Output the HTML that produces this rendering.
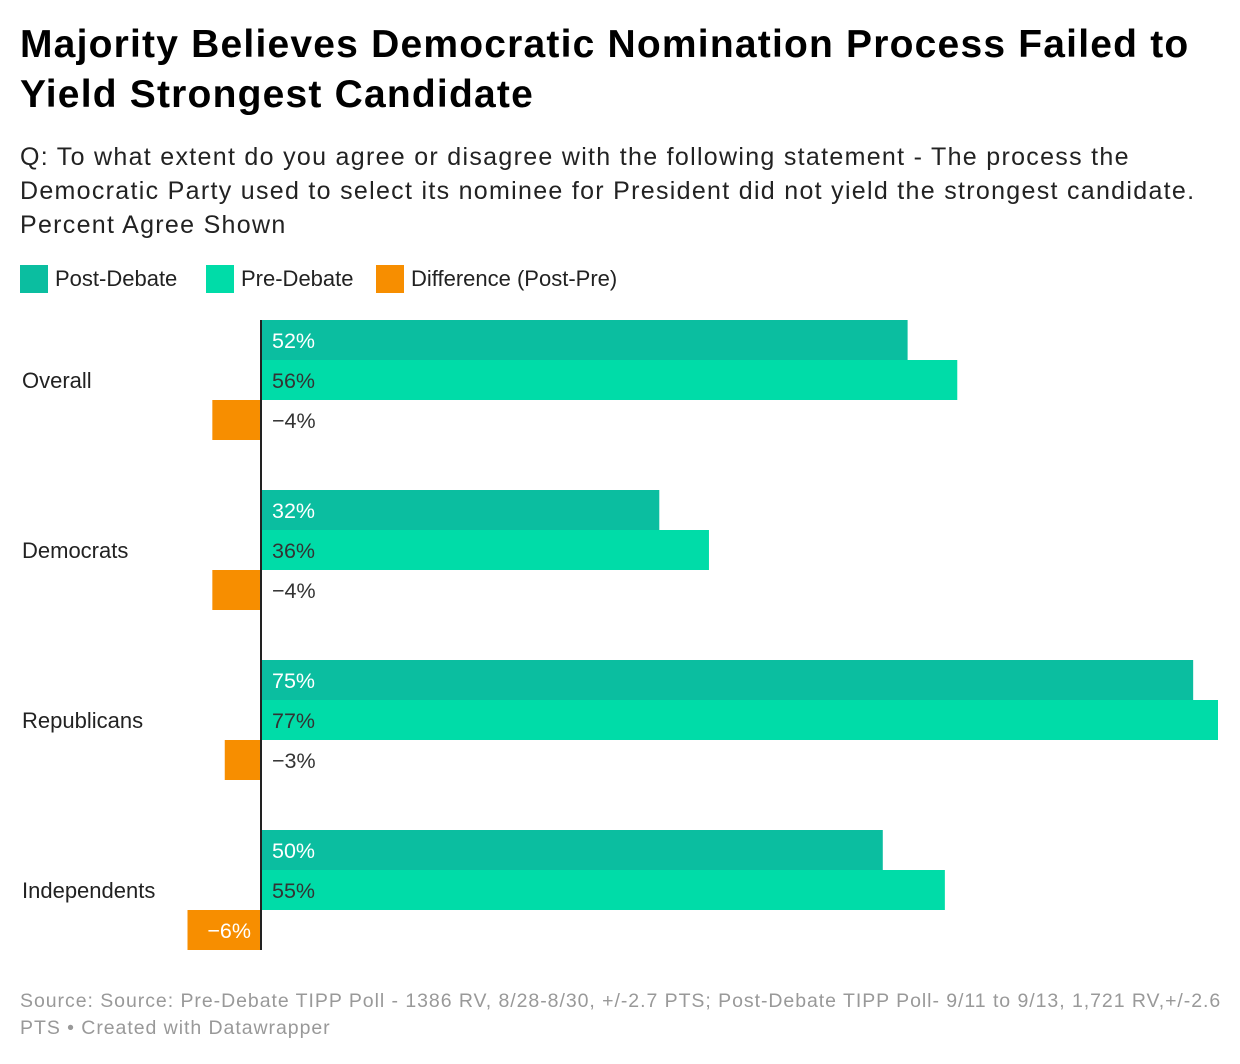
<!DOCTYPE html>
<html><head><meta charset="utf-8"><style>
body{margin:0;background:#fff;font-family:"Liberation Sans",sans-serif;width:1240px;height:1064px;overflow:hidden;position:relative;color:#222}
.abs{position:absolute}
h1{position:absolute;left:20px;top:20px;margin:0;font-size:39px;line-height:50px;font-weight:bold;color:#000;white-space:nowrap;letter-spacing:1.2px}
.sub{left:20px;top:140px;font-size:25px;line-height:34px;color:#222;white-space:nowrap;letter-spacing:1.3px}
.leg{top:264px;font-size:22px;line-height:30px;display:flex;align-items:center}
.sw{width:28px;height:28px;display:inline-block;margin-right:7px}
.foot{left:20px;top:988px;font-size:19.5px;line-height:27px;color:#999;white-space:nowrap;letter-spacing:0.95px}
</style></head><body>
<h1>Majority Believes Democratic Nomination Process Failed to<br>Yield Strongest Candidate</h1>
<div class="abs sub">Q: To what extent do you agree or disagree with the following statement - The process the<br>Democratic Party used to select its nominee for President did not yield the strongest candidate.<br>Percent Agree Shown</div>
<div class="abs leg" style="left:20px"><span class="sw" style="background:#0bbea0"></span>Post-Debate</div>
<div class="abs leg" style="left:206px"><span class="sw" style="background:#00dca8"></span>Pre-Debate</div>
<div class="abs leg" style="left:376px"><span class="sw" style="background:#f78e00"></span>Difference (Post-Pre)</div>
<svg class="abs" style="left:0;top:300px" width="1240" height="660" id="chart"></svg>
<div class="abs foot">Source: Source: Pre-Debate TIPP Poll - 1386 RV, 8/28-8/30, +/-2.7 PTS; Post-Debate TIPP Poll- 9/11 to 9/13, 1,721 RV,+/-2.6<br>PTS • Created with Datawrapper</div>
<script>
const categories=["Overall","Democrats","Republicans","Independents"];
const postValues=[52,32,75,50];
const preValues=[56,36,77,55];
const diffValues=[-4,-4,-3,-6];
const NS="http://www.w3.org/2000/svg";
const svg=document.getElementById('chart');
const x0=262, pxPer=956/77;
function xs(v){return x0+v*pxPer;}
function mk(t,a){const e=document.createElementNS(NS,t);for(const k in a)e.setAttribute(k,a[k]);svg.appendChild(e);return e;}
const colors=["#0bbea0","#00dca8","#f78e00"];
categories.forEach((c,i)=>{
  const gy=20+i*170;
  const t=mk('text',{x:22,y:gy+68,'font-size':22,fill:'#222','font-family':'Liberation Sans, sans-serif'});
  t.textContent=c;
  
  
  const vals=[postValues[i],preValues[i],diffValues[i]];
  vals.forEach((v,j)=>{
    const y=gy+j*40;
    const a=xs(Math.min(0,v)), b=xs(Math.max(0,v));
    const r=mk('rect',{x:a,y:y,width:b-a,height:40,fill:colors[j]});
    
    
    const s=(v<0?'\u2212'+Math.abs(v):v)+'%';
    let lx=x0+10, fill=j==0?'#fff':'#333', anchor='start';
    if(v<0){ if(b-a>60){lx=x0-11;anchor='end';fill='#fff';} else {lx=x0+10;} }
    const l=mk('text',{x:lx,y:y+28,'font-size':21.5,fill:fill,'text-anchor':anchor,'font-family':'Liberation Sans, sans-serif'});
    l.textContent=s;
    
    
  });
});
const ax=mk('line',{x1:261,x2:261,y1:20,y2:650,stroke:'#222','stroke-width':2});


</script>
</body></html>
